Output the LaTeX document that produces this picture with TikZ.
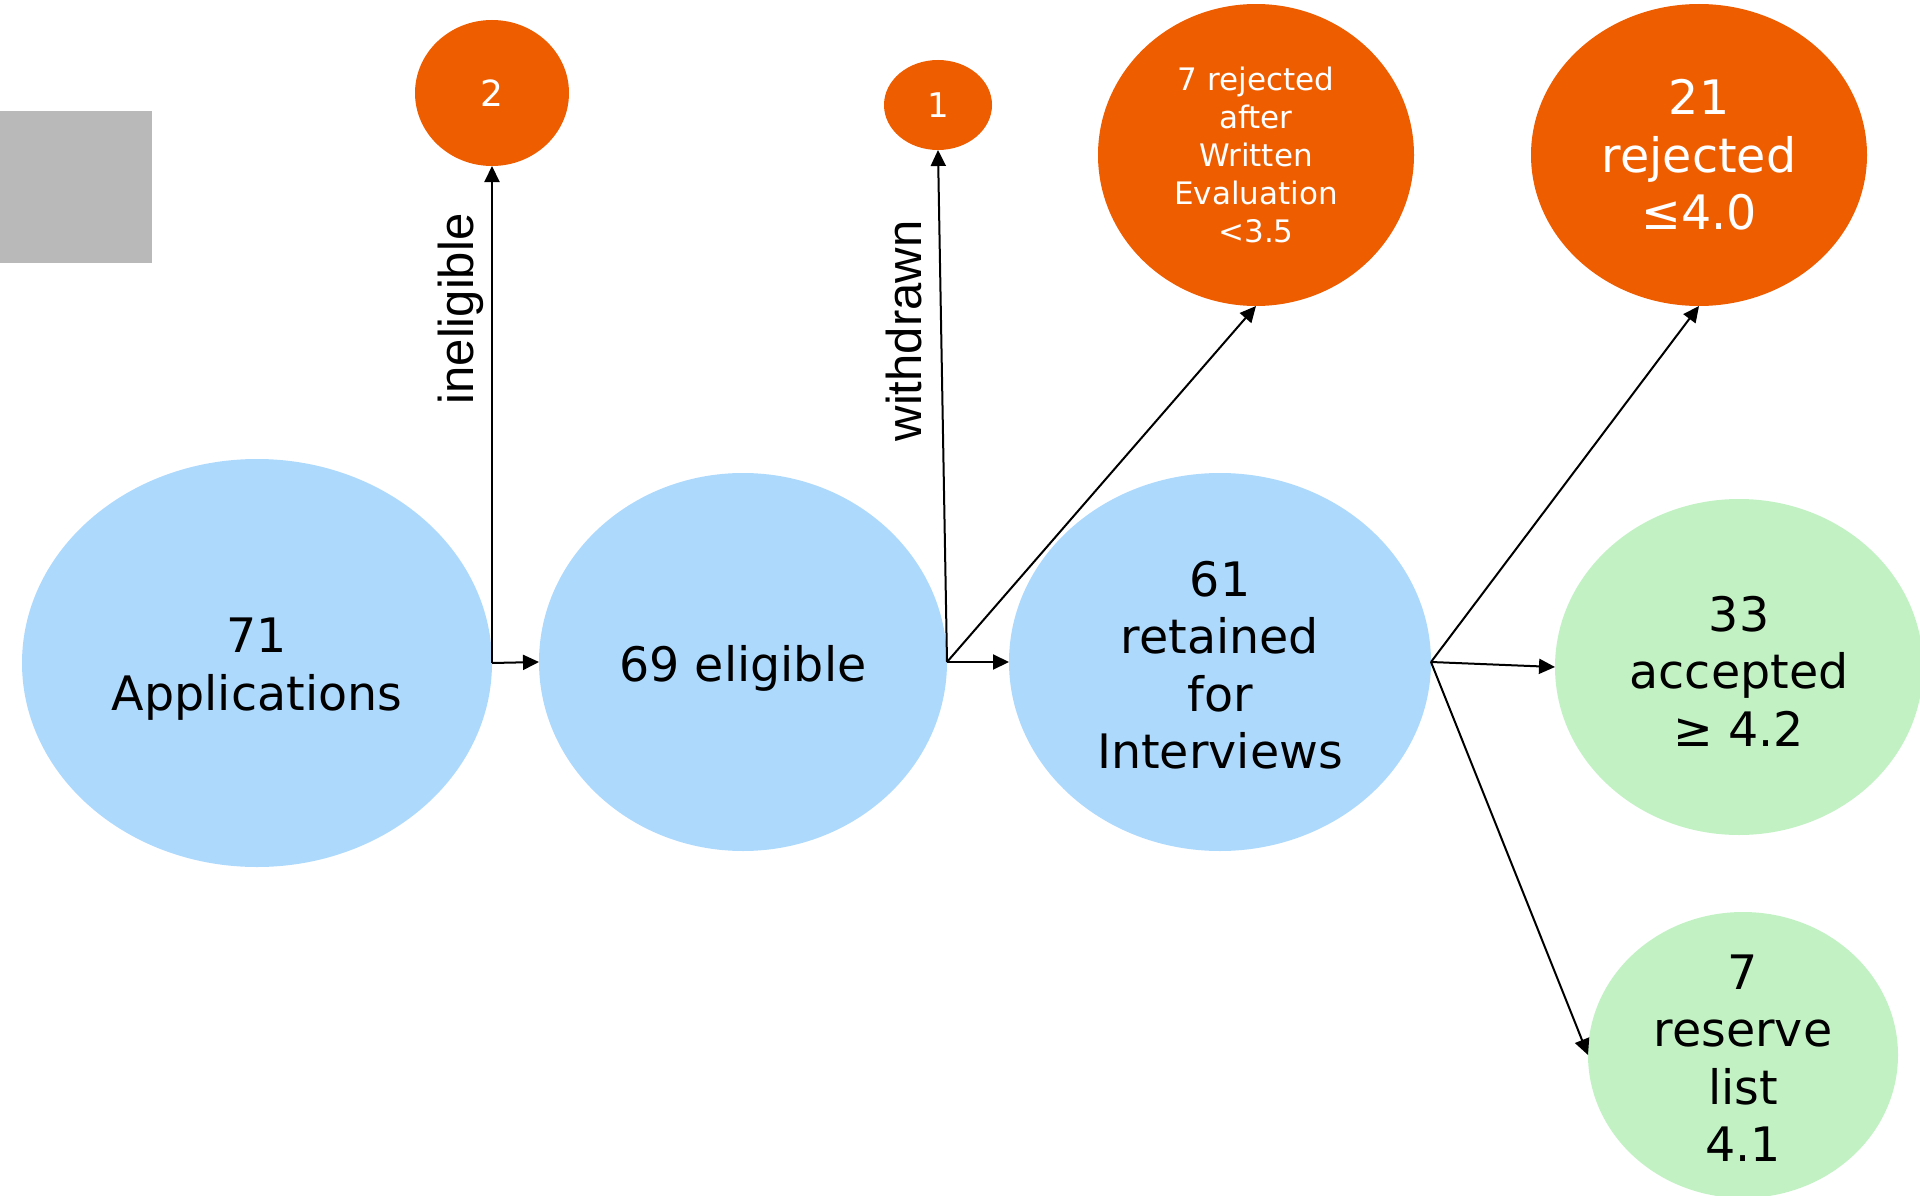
\documentclass[tikz,border=0pt]{standalone}
\usepackage{fontspec}
\setmainfont{DejaVu Sans}
\newfontfamily\labfont{Liberation Sans}
\usetikzlibrary{shapes.geometric,arrows.meta}
\definecolor{bluefill}{RGB}{173,217,253}
\definecolor{orangefill}{RGB}{238,93,0}
\definecolor{greenfill}{RGB}{194,242,196}
\definecolor{grayfill}{RGB}{185,185,185}
\tikzset{
  blob/.style={ellipse, inner sep=0pt, outer sep=0pt, align=center},
  bigtext/.style={font=\fontsize{47.5}{57.5}\selectfont},
  bluenode/.style={blob, fill=bluefill},
  greennode/.style={blob, fill=greenfill},
  orangenode/.style={blob, fill=orangefill, text=white},
  intext/.style={bigtext, align=center, inner sep=0pt, text=black},
  arr/.style={draw=black, line width=2pt, -{Triangle[length=16pt,width=15pt]}},
  sidelabel/.style={font=\labfont\fontsize{49}{55}\selectfont, rotate=90, inner sep=0pt}
}
\begin{document}
\begin{tikzpicture}[x=1pt,y=-1pt]
\useasboundingbox (0,0) rectangle (1920,1196);
\fill[grayfill] (0,111) rectangle (152,263);

\node[bluenode, minimum width=470pt, minimum height=408pt] (app) at (257,663) {};
\node[intext] (appT) at ([yshift=-6pt]app.center) {71\\Applications};
\node[bluenode, minimum width=408pt, minimum height=378pt] (elig) at (743,662) {};
\node[intext] (eligT) at ([yshift=-6pt]elig.center) {69 eligible};
\node[bluenode, minimum width=422pt, minimum height=378pt] (ret) at (1220,662) {};
\node[intext] (retT) at ([yshift=-3pt]ret.center) {61\\retained\\for\\Interviews};
\node[greennode, minimum width=368pt, minimum height=336pt] (acc) at (1739,667) {};
\node[intext] (accT) at ([yshift=-4pt]acc.center) {33\\accepted\\≥ 4.2};
\node[greennode, minimum width=310pt, minimum height=286pt] (res) at (1743,1055) {};
\node[intext] (resT) at ([yshift=-3pt]res.center) {7\\reserve\\list\\4.1};

\node[orangenode, minimum width=154pt, minimum height=146pt, font=\fontsize{36}{40}\selectfont] (two) at (492,93) {2};
\node[orangenode, minimum width=108pt, minimum height=90pt, font=\fontsize{34}{40}\selectfont] (one) at (938,105) {1};
\node[orangenode, minimum width=316pt, minimum height=302pt, font=\fontsize{31}{38}\selectfont] (rejA) at (1256,155) {7 rejected\\after\\Written\\Evaluation\\<3.5};
\node[orangenode, minimum width=336pt, minimum height=302pt, bigtext] (rejB) at (1699,155) {21\\rejected\\≤4.0};

\draw[arr] (app.east) -- (elig.west);
\draw[arr] (app.east) -- (two.south);
\node[sidelabel] (inel) at (461,309) {ineligible};

\draw[arr] (elig.east) -- (ret.west);
\draw[arr] (elig.east) -- (one.south);
\draw[arr] (elig.east) -- (rejA.south);
\node[sidelabel] (wd) at (904,331) {withdrawn};

\draw[arr] (ret.east) -- (rejB.south);
\draw[arr] (ret.east) -- (acc.west);
\draw[arr] (ret.east) -- (res.west);
\end{tikzpicture}
\end{document}
